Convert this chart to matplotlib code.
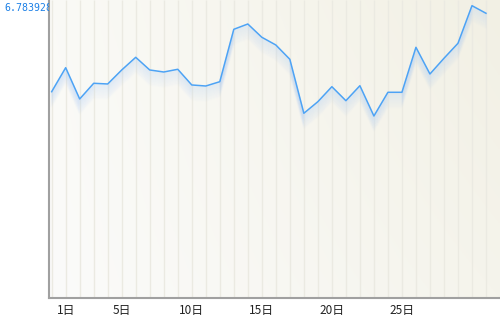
import numpy as np
import matplotlib
matplotlib.use("Agg")
import matplotlib.pyplot as plt
import matplotlib.transforms as mtransforms
from matplotlib.transforms import Bbox, TransformedBbox

# data
days = list(range(0, 32))
values = [4.788, 5.345, 4.619, 4.983, 4.967, 5.292, 5.586, 5.292, 5.245, 5.308,
          4.944, 4.920, 5.020, 6.236, 6.359, 6.051, 5.872, 5.540, 4.287, 4.556,
          4.904, 4.579, 4.927, 4.224, 4.774, 4.774, 5.818, 5.199, 5.563, 5.911,
          6.784, 6.608]
tick_days = [1, 5, 10, 15, 20, 25]
tick_labels = ["1日", "5日", "10日", "15日", "20日", "25日"]
max_label = "6.783928"

fig = plt.figure(figsize=(5, 3.17), dpi=100)
fig.patch.set_facecolor("white")
ax = fig.add_axes([49/500, 19/317, 451/500, 298/317])
ax.set_xlim(-0.19, 32.0)
ax.set_ylim(0, 6.916)

# background gradient (2D)
gx = np.linspace(0, 1, 200)[None, :, None]
gy = np.linspace(0, 1, 200)[:, None, None]  # 0 at top row
tl = np.array([250, 250, 246]) / 255
tr_ = np.array([242, 240, 228]) / 255
bl = np.array([251, 251, 250]) / 255
br = np.array([245, 244, 236]) / 255
top = tl * (1 - gx) + tr_ * gx
bot = bl * (1 - gx) + br * gx
img = top * (1 - gy) + bot * gy
ax.imshow(img, extent=[0, 1, 0, 1], transform=ax.transAxes, aspect="auto", zorder=0)

# vertical grid
ax.vlines(days, 0, 1, transform=ax.get_xaxis_transform(), color="#ebeae2", linewidth=1.0, zorder=1)

# shadow under the line
for k in range(1, 16):
    tr = mtransforms.offset_copy(ax.transData, fig=fig, x=0, y=-k * 0.72, units="points")
    ax.plot(days, values, color="#b8d4f5", linewidth=1.2, alpha=0.2 * (1 - k / 17), transform=tr, zorder=2)

ax.plot(days, values, color="#4da3f5", linewidth=1.1, zorder=3)

ax.set_xticks(tick_days)
ax.set_xticklabels(tick_labels, fontfamily=["Noto Sans CJK JP", "DejaVu Sans"], fontsize=8.5, color="#222222")
ax.tick_params(axis="x", which="both", length=0, pad=4.5)
ax.set_yticks([])

for s in ["top", "right"]:
    ax.spines[s].set_visible(False)
for s in ["left", "bottom"]:
    ax.spines[s].set_color("#a0a0a0")
    ax.spines[s].set_linewidth(1.5)

t = fig.text(4/500, 1 - 8/317, max_label, fontfamily="DejaVu Sans Mono", fontsize=7.1,
             color="#1a7fe6", ha="left", va="center")
t.set_clip_box(TransformedBbox(Bbox([[0, 0], [48.5/500, 1]]), fig.transFigure))
t.set_clip_on(True)

fig.savefig("out.png", dpi=100)
